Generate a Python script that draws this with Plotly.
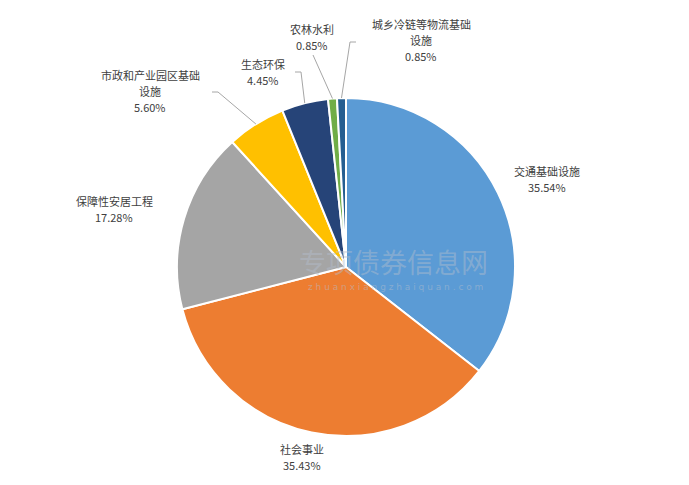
import math
import plotly.graph_objects as go

# ---- data ----
categories = ["交通基础设施", "社会事业", "保障性安居工程", "市政和产业园区基础设施",
              "生态环保", "农林水利", "城乡冷链等物流基础设施"]
label_lines = [["交通基础设施"], ["社会事业"], ["保障性安居工程"], ["市政和产业园区基础", "设施"],
               ["生态环保"], ["农林水利"], ["城乡冷链等物流基础", "设施"]]
shares = [35.54, 35.43, 17.28, 5.60, 4.45, 0.85, 0.85]
colors = ["#5B9BD5", "#ED7D31", "#A5A5A5", "#FFC000", "#264478", "#70AD47", "#255E91"]

# ---- layout constants (pixels) ----
W, H = 689, 485
CX, CY, R = 346, 267, 169
LINE_H = 16
# y of first text line centre, x centre
label_pos = [(547, 171), (302, 449), (114, 201), (150, 75), (263, 64), (312, 29), (421, 24)]
# leader: (elbow_x, elbow_y, end_x) or None
leaders = [None, None, None, (218, 92, 212), (301, 72, 295), None, (350, 42, 356)]
leader_direct_end = {5: (313, 55)}

fig = go.Figure()
fig.add_trace(go.Pie(
    labels=categories, values=shares, sort=False, direction="clockwise", rotation=0,
    marker=dict(colors=colors, line=dict(color="white", width=2)),
    textinfo="none", hoverinfo="label+percent", showlegend=False,
    domain=dict(x=[(CX - R) / W, (CX + R) / W], y=[(H - CY - R) / H, (H - CY + R) / H]),
))

def px(x):
    return x / W

def py(y):
    return 1 - y / H

annotations = []
shapes = []
total = sum(shares)
cum = 0.0
for i, (lines, v) in enumerate(zip(label_lines, shares)):
    mid = (cum + v / 2) / total * 2 * math.pi
    cum += v
    ex, ey = CX + R * math.sin(mid), CY - R * math.cos(mid)
    lx, ly = label_pos[i]
    for k, t in enumerate(lines + [f"{v:.2f}%"]):
        annotations.append(dict(
            x=px(lx), y=py(ly + k * LINE_H), xref="paper", yref="paper", showarrow=False,
            text=t, align="center", xanchor="center", yanchor="middle", borderpad=0,
            font=dict(family="Noto Sans CJK SC", size=11, color="#404040"),
        ))
    if leaders[i] is not None:
        bx, by, endx = leaders[i]
        path = f"M {px(ex)} {py(ey)} L {px(bx)} {py(by)} L {px(endx)} {py(by)}"
        shapes.append(dict(type="path", xref="paper", yref="paper", path=path,
                           line=dict(color="#A6A6A6", width=1)))
    elif i in leader_direct_end:
        dx, dy = leader_direct_end[i]
        shapes.append(dict(type="line", xref="paper", yref="paper",
                           x0=px(ex), y0=py(ey), x1=px(dx), y1=py(dy),
                           line=dict(color="#A6A6A6", width=1)))

# faint watermark
annotations.append(dict(x=px(393), y=py(261), xref="paper", yref="paper", showarrow=False,
                        text="专项债券信息网", font=dict(family="Noto Sans CJK SC", size=27,
                                                  color="rgba(180,190,205,0.45)")))
annotations.append(dict(x=px(395), y=py(287), xref="paper", yref="paper", showarrow=False,
                        text="z h u a n x i a n g z h a i q u a n . c o m",
                        font=dict(family="DejaVu Sans", size=9, color="rgba(180,190,205,0.5)")))

fig.update_layout(
    width=W, height=H, margin=dict(l=0, r=0, t=0, b=0),
    paper_bgcolor="white", plot_bgcolor="white",
    annotations=annotations, shapes=shapes,
)
fig.write_html("out.html", config={"displayModeBar": False},
               post_script="document.body.style.margin='0';")
